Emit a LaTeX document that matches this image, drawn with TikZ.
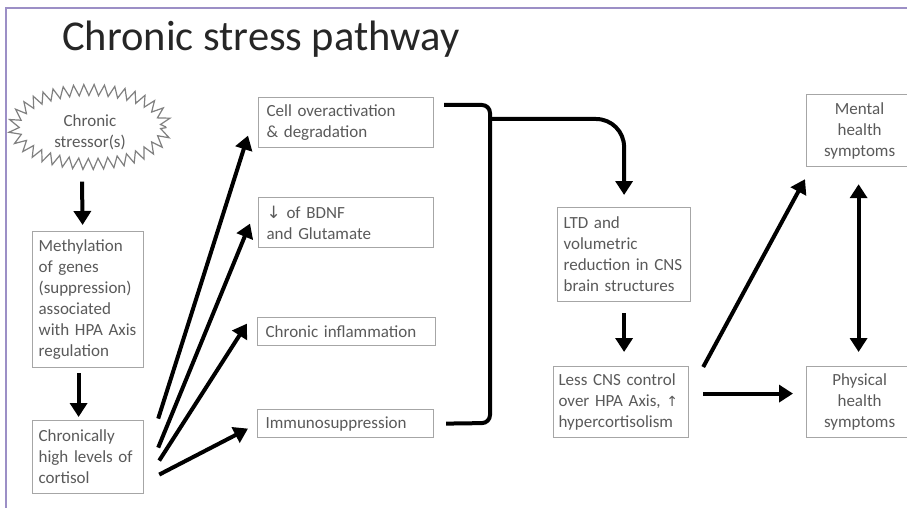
\documentclass[tikz,border=0pt]{standalone}
\usepackage{fontspec}
\setmainfont{Carlito}
\newfontfamily\arrfont{DejaVu Sans}
\usetikzlibrary{arrows.meta,decorations.pathmorphing,shapes.geometric,calc}
\definecolor{framecol}{HTML}{9C8FC6}
\definecolor{boxline}{HTML}{A6A6A6}
\definecolor{txt}{HTML}{5A5A5A}
\begin{document}
\begin{tikzpicture}[x=1pt,y=-1pt,
  box/.style={draw=boxline, line width=1.2pt, anchor=north west, inner sep=0pt,
    text=txt, align=left, font=\fontsize{17}{21}\selectfont},
  cbox/.style={box, align=center},
  arr/.style={line width=4pt, -{Triangle[length=14pt,width=17pt]}},
  darr/.style={line width=4pt, {Triangle[length=14pt,width=17pt]}-{Triangle[length=14pt,width=17pt]}},
  thickline/.style={line width=4pt}]
\useasboundingbox (0,0) rectangle (907,508);
\fill[white] (0,0) rectangle (907,508);
% frame
\draw[framecol, line width=2pt] (907,8) -- (6,8) -- (6,508);
% title
\node[anchor=base west, inner sep=0pt, font=\fontsize{42.5}{50}\selectfont, text=black!85] (title) at (62,51) {Chronic stress pathway};
% starburst
\node[draw=gray, line width=1.2pt, ellipse, minimum width=152pt, minimum height=74pt,
  decorate, decoration={zigzag, segment length=10pt, amplitude=5.5pt},
  text=txt, font=\fontsize{17}{21}\selectfont] (stress) at (90,127)
  {\raisebox{-10pt}[0pt][0pt]{\begin{tabular}{@{}c@{}}Chronic\\stressor(s)\end{tabular}}};
% left column
\node[box, minimum width=111pt, minimum height=136pt, text width=99pt] (meth) at (32,231)
  {Methylation\\of genes\\(suppression)\\associated\\with HPA Axis\\regulation};
\node[box, minimum width=111pt, minimum height=73pt, text width=99pt] (chron) at (32,420)
  {Chronically\\high levels of\\cortisol};
% middle column
\node[box, minimum width=175pt, minimum height=50pt, text width=159pt] (cell) at (258,97)
  {Cell overactivation\\\& degradation};
\node[box, minimum width=175pt, minimum height=50pt, text width=159pt] (bdnf) at (258,197)
  {{\arrfont ↓} of BDNF\\and Glutamate};
\node[box, minimum width=178pt, minimum height=28pt, text width=162pt] (inflam) at (257,317)
  {Chronic inflammation};
\node[box, minimum width=176pt, minimum height=28pt, text width=160pt] (immuno) at (257,409)
  {Immunosuppression};
% right-middle column
\node[box, minimum width=133pt, minimum height=94pt, text width=121pt] (ltd) at (557,207)
  {LTD and\\volumetric\\reduction in CNS\\brain structures};
\node[box, minimum width=135pt, minimum height=71pt, text width=125pt] (less) at (553,366)
  {Less CNS control\\over HPA Axis, {\arrfont\fontsize{14}{21}\selectfont ↑}\\hypercortisolism};
% right column
\node[cbox, minimum width=106pt, minimum height=72pt, text width=96pt] (mental) at (806,94)
  {Mental\\health\\symptoms};
\node[cbox, minimum width=106pt, minimum height=71pt, text width=96pt] (physical) at (806,366)
  {Physical\\health\\symptoms};
% connectors
\draw[arr] ([shift={(-8,17)}]stress.south) -- ([shift={(-5.5,-6)}]meth.north);
\draw[arr] ([shift={(-9.5,5)}]meth.south) -- ([shift={(-9.5,-3)}]chron.north);
\draw[arr] ([shift={(14,-38.5)}]chron.east) -- ([shift={(-10,13)}]cell.west);
\draw[arr] ([shift={(14,-9.5)}]chron.east) -- ([shift={(-8,1)}]bdnf.west);
\draw[arr] ([shift={(15,3.5)}]chron.east) -- ([shift={(-10,-8)}]inflam.west);
\draw[arr] ([shift={(15,17.5)}]chron.east) -- ([shift={(-9,5)}]immuno.west);
% bracket
\coordinate (bt) at (490,105);
\coordinate (bb) at (490,423);
\coordinate (br) at (490,119);
\draw[thickline, rounded corners=8pt] ([shift={(10,8)}]cell.north east) -- (bt) -- (bb) -- ([xshift=12pt]immuno.east);
\draw[arr, rounded corners=28pt] (br) -- (ltd.north |- br) -- ([yshift=12pt]ltd.north);
\coordinate (lessTop) at (ltd.south |- less.north);
\draw[arr] ([shift={(0,11)}]ltd.south) -- ([shift={(0,-14)}]lessTop);
\draw[arr] ([shift={(14,1)}]less.north east) -- ([shift={(-1,12)}]mental.south west);
\draw[arr] ([shift={(14,-8.5)}]less.east) -- ([shift={(-13,-8.5)}]physical.west);
\draw[darr] ([shift={(-1,17)}]mental.south) -- ([shift={(-1,-14)}]physical.north);
\end{tikzpicture}
\end{document}
